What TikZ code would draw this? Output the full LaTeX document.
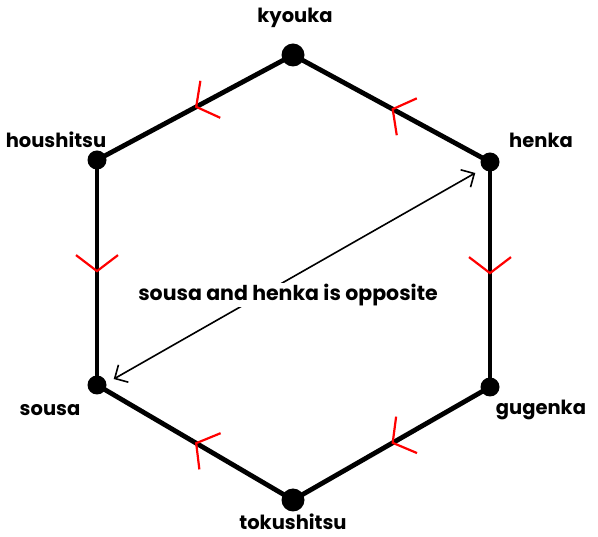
\documentclass[tikz,border=0pt]{standalone}
\usepackage{fontspec}
\setmainfont{Poppins}
\usetikzlibrary{arrows.meta,decorations.markings}
\tikzset{
  vert/.style={circle,fill=black,inner sep=0pt,minimum size=#1},
  lbl/.style={font=\fontsize{19.5}{22}\selectfont\bfseries,inner sep=0pt},
  midlbl/.style={font=\fontsize{20.5}{24}\selectfont\bfseries,inner sep=1pt,fill=white},
  side/.style={line width=4.8pt,line cap=round,
    postaction={decorate,decoration={markings,mark=at position 0.5 with {\arrow[red,line width=2.2pt]{Straight Barb[length=16pt,width=42pt]}}}}},
  opp/.style={line width=1.6pt,{Straight Barb[length=10pt,width=20pt]}-{Straight Barb[length=10pt,width=20pt]},shorten >=2pt,shorten <=2pt}
}
\begin{document}
\begin{tikzpicture}[x=1pt,y=-1pt]
\useasboundingbox (0,0) rectangle (598,537);
\fill[white] (0,0) rectangle (598,537);
\node[vert=23pt] (ky) at (293,55) {};
\node[vert=19pt] (he) at (490,162) {};
\node[vert=19pt] (gu) at (490,387) {};
\node[vert=23pt] (to) at (293,500) {};
\node[vert=19pt] (so) at (97,385) {};
\node[vert=19pt] (ho) at (97,160) {};
\draw[side] (he.center) -- (ky.center);
\draw[side] (ky.center) -- (ho.center);
\draw[side] (ho.center) -- (so.center);
\draw[side] (he.center) -- (gu.center);
\draw[side] (gu.center) -- (to.center);
\draw[side] (to.center) -- (so.center);
\node[lbl] (tky) at (295,18) {kyouka};
\node[lbl] (tho) at (56,140) {houshitsu};
\node[lbl] (the) at (541,140) {henka};
\node[lbl] (tgu) at (541,410) {gugenka};
\node[lbl] (tso) at (50,410) {sousa};
\node[lbl] (tto) at (293,522) {tokushitsu};
\coordinate (a1) at (112,380);
\coordinate (a2) at (477,172);
\draw[opp] (a1) -- (a2);
\node[midlbl] (mid) at (288,295) {sousa and henka is opposite};
\end{tikzpicture}
\end{document}
